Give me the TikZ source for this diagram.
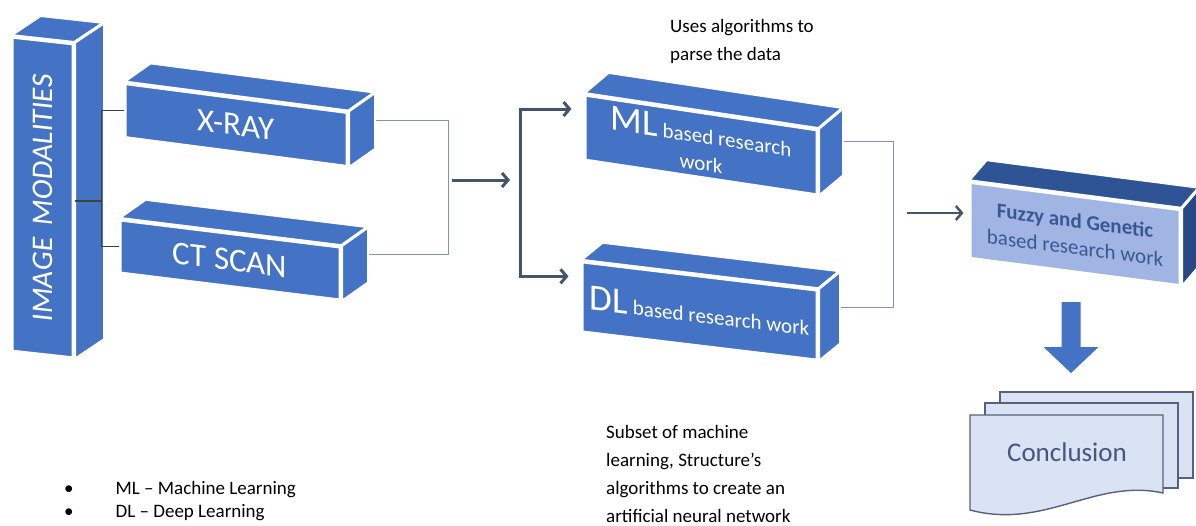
\documentclass[tikz,border=0pt]{standalone}
\usepackage{fontspec}
\setmainfont{Carlito}
\usepackage{graphicx}
\usetikzlibrary{calc, arrows.meta, positioning}
\definecolor{slabblue}{HTML}{4472C4}
\definecolor{palefront}{HTML}{A0B5E3}
\definecolor{fuzzytop}{HTML}{2E5496}
\definecolor{fuzzyside}{HTML}{284785}
\definecolor{fuzzytext}{HTML}{3A5795}
\definecolor{arrowdark}{HTML}{44546A}
\definecolor{joingray}{HTML}{8592AC}
\definecolor{pagefill}{HTML}{DAE3F3}
\definecolor{pageline}{HTML}{56617F}
\definecolor{concltext}{HTML}{44577F}
\newcommand{\bigfont}{\fontsize{33}{36}\selectfont}
\newcommand{\midfont}{\fontsize{21}{27}\selectfont}
\newcommand{\notefont}{\fontsize{19}{28}\selectfont}
\tikzset{
	slab/.style={
			shape=rectangle,
			fill=slabblue,
			draw=white,
			line width=3pt,
			text=white,
			inner sep=0pt,
			align=center
		},
	paleslab/.style={
			slab,
			fill=palefront,
			text=fuzzytext,
			font=\midfont
		},
	forkline/.style={
			draw=black!75,
			line width=1.3pt
		},
	joinline/.style={
			draw=joingray,
			line width=1.5pt
		},
	flowarrow/.style={
			draw=arrowdark,
			line width=3pt,
			-{Straight Barb[length=6pt,width=14pt]}
		},
	page/.style={
			fill=pagefill,
			draw=pageline,
			line width=1.4pt
		},
	note/.style={
			inner sep=0pt,
			align=left,
			text=black,
			font=\notefont
		}
}
\newcommand{\slabfaces}[5]{%
  \filldraw[fill=#4, draw=white, line width=3pt, line join=round]
    (#1.north west) -- (#1.north east) -- ++(#2,#3) -- ($(#1.north west)+(#2,#3)$) -- cycle;
  \filldraw[fill=#5, draw=white, line width=3pt, line join=round]
    (#1.north east) -- ($(#1.north east)+(#2,#3)$) -- ($(#1.south east)+(#2,#3)$) -- (#1.south east) -- cycle;
  \coordinate (#1 back) at ($(#1.east)+(#2,#3)$);
}

\begin{document}
\begin{tikzpicture}[x=1pt, y=-1pt]

  \useasboundingbox (0,0) rectangle (1196,525);
  \clip (0,0) rectangle (1196,525);

  \node[slab, yslant=-0.11, minimum width=61pt, minimum height=314pt, font=\fontsize{30}{32}\selectfont] (imgmod) at (42.5,197.5) {\rotatebox{90}{IMAGE\hspace{12pt}MODALITIES}};
  \slabfaces{imgmod}{30}{-20}{slabblue}{slabblue}

  \draw[forkline] (imgmod.east) -- ++(27,0) coordinate (imgfork);

  \node[slab, yslant=-0.13, minimum width=222pt, minimum height=54pt, font=\bigfont] (xray) at (236,125) {X-RAY};
  \slabfaces{xray}{27}{-19}{slabblue}{slabblue}
  \node[slab, yslant=-0.123, minimum width=220pt, minimum height=53pt, font=\bigfont] (ctscan) at (230,260) {CT SCAN};
  \slabfaces{ctscan}{27}{-19}{slabblue}{slabblue}

  \draw[forkline] (imgfork) |- (xray.west);
  \draw[forkline] (imgfork) |- (ctscan.west);

  \node[slab, yslant=-0.15, minimum width=232pt, minimum height=65pt, font=\midfont] (ml) at (701,145) {{\fontsize{37}{38}\selectfont ML} based research\\work};
  \slabfaces{ml}{25}{-21}{slabblue}{slabblue}
  \node[slab, yslant=-0.12, minimum width=235pt, minimum height=70pt, font=\midfont] (dl) at (699.5,311) {{\fontsize{37}{38}\selectfont DL} based research work};
  \slabfaces{dl}{22}{-18}{slabblue}{slabblue}

  \node[paleslab, yslant=-0.13, minimum width=210pt, minimum height=76pt] (fuzzy) at (1075,234) {\textbf{Fuzzy and Genetic}\\based research work};
  \slabfaces{fuzzy}{18}{-21}{fuzzytop}{fuzzyside}

  \draw[joinline] (xray back) -- ++(73,0) |- (ctscan back);
  \coordinate (merge) at (452,180);
  \coordinate (split) at (520,193);
  \draw[flowarrow, shorten >=10pt] (merge) -- (split |- merge);

  \coordinate (mlin) at ($(ml.north west)!0.23!(ml.south west)$);
  \coordinate (dlin) at ($(dl.north west)!0.22!(dl.south west)$);
  \draw[flowarrow, shorten >=12pt] (split) |- (mlin);
  \draw[flowarrow, shorten >=12pt] (split) |- (dlin);

  \draw[joinline] (ml back) -- ++(50,0) |- (dl back);
  \coordinate (join) at (907,213);
  \draw[flowarrow, line width=2.5pt, shorten >=5pt] (join) -- (join -| fuzzy.west);

  \coordinate (drop) at (1071,302);
  \fill[slabblue] (drop) +(-9.5,0) -- +(9.5,0) -- +(9.5,45) -- +(27.5,45) -- +(0,71) -- +(-27.5,45) -- +(-9.5,45) -- cycle;

  \filldraw[page] (1000,392) rectangle (1193,478);
  \filldraw[page] (985,403) rectangle (1178,488);
  \filldraw[page] (970,415) -- (1163,415) -- (1163,493) .. controls (1095,478) and (1045,530) .. (970,510) -- cycle;
  \node[text=concltext, font=\fontsize{27}{30}\selectfont] (concl) at (1067,452) {Conclusion};

  \node[note, anchor=north west] (algonote) at (670,19) {Uses algorithms to\\parse the data};
  \node[note, anchor=north west] (annnote) at (606,425) {Subset of machine\\learning, Structure’s\\algorithms to create an\\artificial neural network};
  \node[note, anchor=north west, font=\fontsize{19}{23}\selectfont] (legend) at (64,481) {\textbullet\hspace{42pt}ML – Machine Learning\\\textbullet\hspace{42pt}DL – Deep Learning};

\end{tikzpicture}
\end{document}
